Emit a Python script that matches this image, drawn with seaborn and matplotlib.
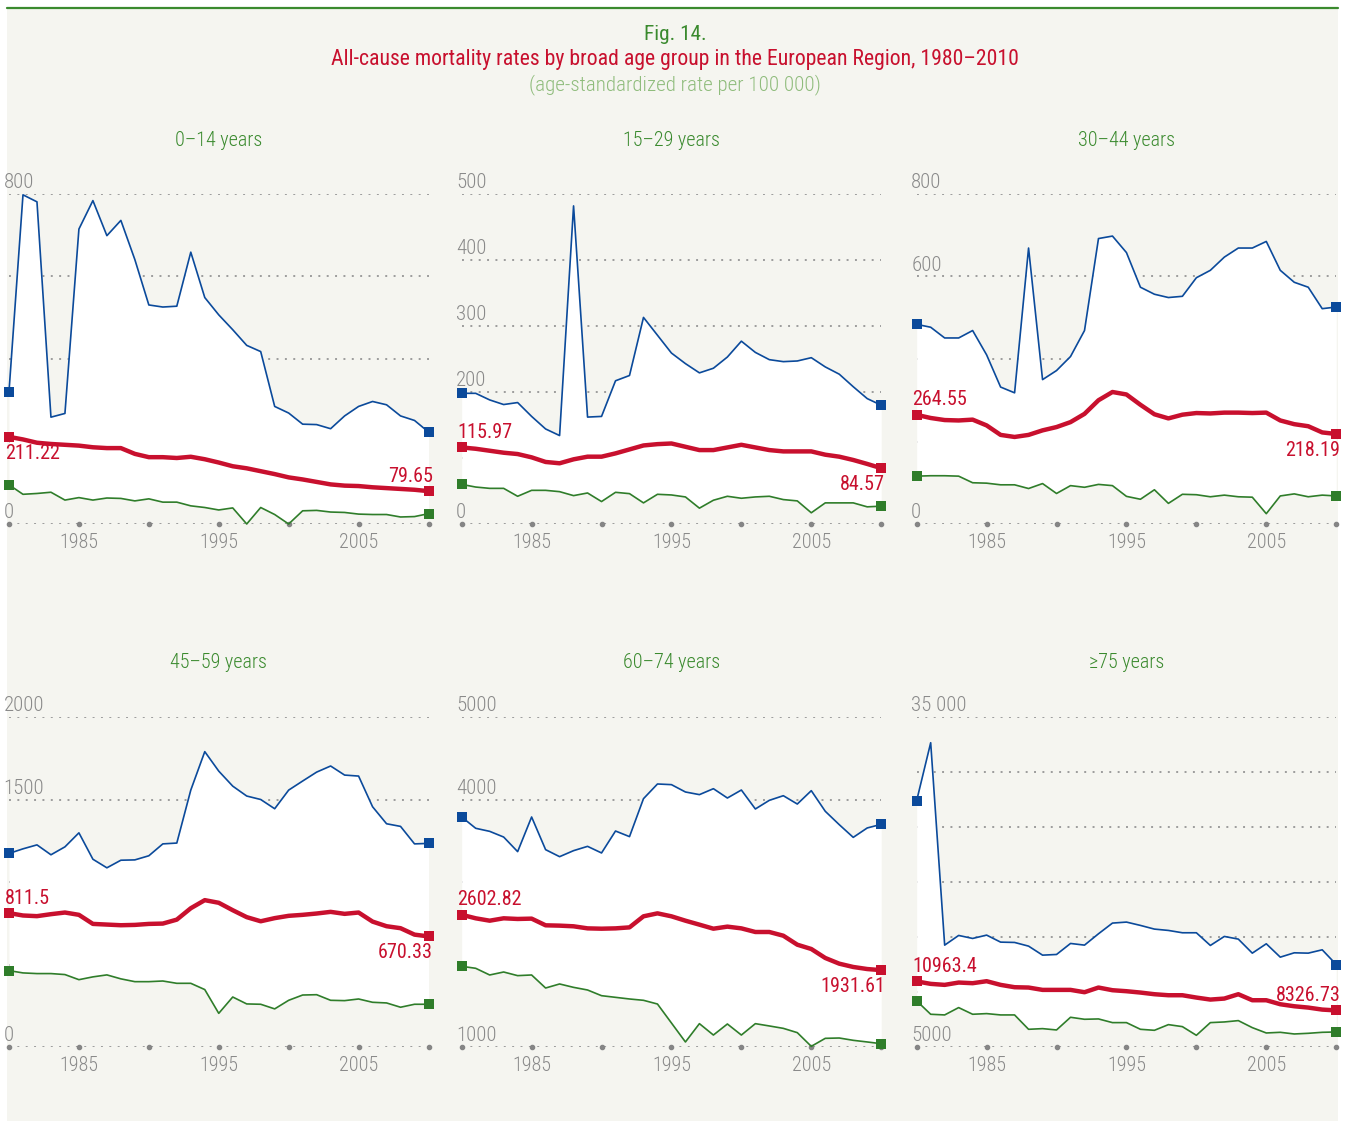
import numpy as np
import pandas as pd
import seaborn as sns
import matplotlib.pyplot as plt
from matplotlib import font_manager
from matplotlib.patches import Rectangle
from matplotlib.lines import Line2D

sns.set_theme(style='white')
installed = {f.name for f in font_manager.fontManager.ttflist}
narrow = [f for f in ['Liberation Sans Narrow', 'Roboto Condensed', 'DejaVu Sans Condensed', 'Lato']
          if f in installed]
plt.rcParams['font.family'] = narrow[:1] + ['DejaVu Sans']
plt.rcParams['font.weight'] = 'light'

# ------------------------------
# Data
# ------------------------------
years = list(range(1980, 2011))

titles = ['0–14 years', '15–29 years', '30–44 years', '45–59 years', '60–74 years', '≥75 years']

max_0_14 = [321, 798, 781, 259, 268, 715, 784, 699, 736, 641, 531, 526, 528, 659, 549, 507,
            471, 433, 418, 285, 269, 242, 241, 231, 262, 285, 297, 289, 262, 251, 223]
avg_0_14 = [211.22, 205, 197, 194, 192, 190, 186, 184, 184, 170, 162, 162, 160, 163, 157, 149,
            140, 135, 128, 121, 113, 108, 102, 96, 93, 92, 89, 87, 85, 83, 79.65]
min_0_14 = [95, 72, 74, 77, 58, 64, 58, 63, 62, 56, 61, 53, 53, 44, 40, 34,
            39, 0, 40, 23, 0, 32, 33, 29, 28, 24, 23, 23, 17, 18, 25]

max_15_29 = [198, 198, 188, 181, 184, 163, 144, 134, 482, 162, 163, 217, 225, 313, 286, 259,
             243, 229, 236, 253, 277, 260, 249, 246, 247, 252, 238, 227, 208, 190, 180]
avg_15_29 = [115.97, 114, 111, 108, 106, 101, 94, 92, 98, 102, 102, 107, 113, 119, 121, 122,
             117, 112, 112, 116, 120, 116, 112, 110, 110, 110, 105, 102, 97, 91, 84.57]
min_15_29 = [60, 56, 54, 54, 42, 51, 51, 49, 43, 47, 34, 48, 46, 32, 45, 44,
             41, 24, 36, 42, 39, 41, 42, 37, 35, 17, 32, 32, 32, 26, 27]

max_30_44 = [484, 477, 451, 451, 469, 410, 332, 318, 669, 350, 372, 406, 469, 692, 698, 658,
             574, 557, 549, 552, 597, 615, 647, 669, 669, 685, 615, 586, 574, 522, 526]
avg_30_44 = [264.55, 257, 252, 251, 253, 239, 216, 211, 216, 227, 235, 247, 267, 300, 320, 314,
             289, 266, 256, 265, 269, 268, 270, 270, 269, 270, 251, 242, 237, 222, 218.19]
min_30_44 = [116, 117, 117, 116, 100, 99, 95, 95, 86, 98, 74, 93, 89, 96, 93, 67,
             60, 83, 50, 72, 71, 66, 70, 66, 65, 25, 68, 73, 66, 70, 68]

max_45_59 = [1173, 1201, 1225, 1165, 1213, 1298, 1138, 1086, 1132, 1134, 1159, 1231, 1236, 1557, 1790, 1672,
             1581, 1521, 1500, 1444, 1557, 1612, 1666, 1703, 1648, 1642, 1456, 1353, 1337, 1231, 1234]
avg_45_59 = [811.5, 797, 793, 805, 815, 801, 746, 742, 738, 740, 746, 748, 772, 841, 890, 874,
             829, 787, 762, 781, 795, 801, 809, 819, 807, 815, 760, 732, 720, 681, 670.33]
min_45_59 = [463, 449, 445, 445, 439, 408, 425, 437, 413, 396, 396, 400, 386, 386, 348, 204,
             303, 261, 259, 231, 283, 315, 317, 283, 281, 291, 271, 267, 241, 259, 259]

max_60_74 = [3788, 3651, 3614, 3545, 3368, 3788, 3392, 3307, 3380, 3432, 3352, 3618, 3550, 4010, 4188, 4180,
             4091, 4059, 4131, 4018, 4115, 3885, 3990, 4046, 3945, 4107, 3857, 3695, 3541, 3655, 3699]
avg_60_74 = [2602.82, 2560, 2531, 2560, 2552, 2556, 2475, 2471, 2463, 2438, 2434, 2438, 2450, 2584, 2620, 2584,
             2531, 2483, 2434, 2459, 2438, 2394, 2394, 2349, 2240, 2188, 2079, 2010, 1970, 1945, 1931.61]
min_60_74 = [1978, 1954, 1873, 1909, 1865, 1873, 1715, 1764, 1723, 1691, 1622, 1602, 1582, 1566, 1521, 1291,
             1061, 1283, 1145, 1279, 1145, 1283, 1255, 1226, 1174, 1008, 1105, 1109, 1081, 1061, 1040]

max_75 = [27408, 32662, 14261, 15142, 14868, 15172, 14534, 14504, 14170, 13350, 13411, 14413, 14261, 15293, 16265, 16356,
          16053, 15718, 15597, 15385, 15385, 14231, 15051, 14808, 13532, 14383, 13168, 13563, 13532, 13836, 12500]
avg_75 = [10963.4, 10739, 10648, 10860, 10800, 10982, 10648, 10435, 10405, 10192, 10192, 10192, 9980, 10405, 10162, 10071,
          9949, 9798, 9706, 9706, 9494, 9312, 9403, 9798, 9251, 9251, 8887, 8704, 8583, 8401, 8326.73]
min_75 = [9190, 7976, 7915, 8583, 7976, 8036, 7915, 7915, 6609, 6670, 6549, 7702, 7520, 7551, 7217, 7217,
          6609, 6518, 7034, 6852, 6063, 7217, 7277, 7399, 6761, 6275, 6336, 6184, 6245, 6336, 6366]

max_series = [max_0_14, max_15_29, max_30_44, max_45_59, max_60_74, max_75]
avg_series = [avg_0_14, avg_15_29, avg_30_44, avg_45_59, avg_60_74, avg_75]
min_series = [min_0_14, min_15_29, min_30_44, min_45_59, min_60_74, min_75]

y_limits = [(0, 800), (0, 500), (0, 800), (0, 2000), (1000, 5000), (5000, 35000)]
grid_steps = [200, 100, 200, 500, 1000, 5000]
shown_ticks = [[800, 0], [500, 400, 300, 200, 0], [800, 600, 0],
               [2000, 1500, 0], [5000, 4000, 1000], [35000, 5000]]
tick_text = [['800', '0'], ['500', '400', '300', '200', '0'], ['800', '600', '0'],
             ['2000', '1500', '0'], ['5000', '4000', '1000'], ['35 000', '5000']]
start_lbl = ['211.22', '115.97', '264.55', '811.5', '2602.82', '10963.4']
end_lbl = ['79.65', '84.57', '218.19', '670.33', '1931.61', '8326.73']
start_above = [False, True, True, True, True, True]
end_above = [True, False, False, False, False, True]
year_labels = [1985, 1995, 2005]
year_dots = [1980, 1985, 1990, 1995, 2000, 2005, 2010]

# ------------------------------
# Colours
# ------------------------------
BG = '#f5f5f0'
BLUE = '#0b4a9b'
RED = '#c8102e'
GREEN = '#2f7d2a'
TITLE_GREEN = '#3a8a2e'
SUB_GREEN = '#8fbc7c'
GRAY = '#8a8a8a'
GRID = '#9c9c9c'
FS = 14.5 if narrow and narrow[0] != 'Lato' else 13

W, H = 1350, 1121
fig = plt.figure(figsize=(W / 100, H / 100), dpi=100, facecolor='white')

# background panel + top rule
fig.patches.append(Rectangle((7 / W, 0), (1338 - 7) / W, (H - 9) / H, transform=fig.transFigure,
                             facecolor=BG, edgecolor='none', zorder=-10))
fig.lines.append(Line2D([7 / W, 1338 / W], [(H - 8) / H] * 2, transform=fig.transFigure,
                        color=TITLE_GREEN, lw=1.6))

fig.text(0.5, 1 - 34 / H, 'Fig. 14.', ha='center', va='center', color=TITLE_GREEN,
         fontsize=FS + 0.8, fontweight='normal')
fig.text(0.5, 1 - 60 / H, 'All-cause mortality rates by broad age group in the European Region, 1980–2010',
         ha='center', va='center', color=RED, fontsize=FS + 1.2, fontweight='normal')
fig.text(0.5, 1 - 85 / H, '(age-standardized rate per 100 000)', ha='center', va='center',
         color=SUB_GREEN, fontsize=FS + 0.6)

col_left = [9, 461.7, 916.7]
ax_w = 419.5
row_bottom = [524, 1047]
ax_h = 330

for i in range(6):
    r, c = divmod(i, 3)
    left = col_left[c]
    bottom = row_bottom[r]
    ax = fig.add_axes([left / W, (H - bottom) / H, ax_w / W, ax_h / H])
    ax.patch.set_alpha(0)
    for s in ax.spines.values():
        s.set_visible(False)

    lo, hi = y_limits[i]
    ax.set_xlim(1980, 2010)
    ax.set_ylim(lo, hi)
    ax.set_yticks(np.arange(lo, hi + 1, grid_steps[i]))
    ax.set_xticks([])
    ax.tick_params(left=False, labelleft=False, bottom=False, labelbottom=False)
    ax.grid(axis='y', color=GRID, linestyle=(0, (1, 3.3)), linewidth=1.4)
    ax.set_axisbelow(True)

    df = pd.DataFrame({'year': years, 'max': max_series[i], 'avg': avg_series[i], 'min': min_series[i]})

    ax.fill_between(df['year'], df['min'], df['max'], color='white', lw=0, zorder=1)

    sns.lineplot(data=df, x='year', y='max', ax=ax, color=BLUE, lw=1.2, marker='s', markevery=[0, 30],
                 markersize=7.5, markeredgewidth=0, clip_on=False, zorder=3)
    sns.lineplot(data=df, x='year', y='min', ax=ax, color=GREEN, lw=1.2, marker='s', markevery=[0, 30],
                 markersize=7.5, markeredgewidth=0, clip_on=False, zorder=3)
    sns.lineplot(data=df, x='year', y='avg', ax=ax, color=RED, lw=3.2, marker='s', markevery=[0, 30],
                 markersize=7.5, markeredgewidth=0, clip_on=False, zorder=4,
                 solid_joinstyle='round', solid_capstyle='round')
    ax.set(xlabel='', ylabel='')

    # baseline dots every 5 years
    ax.plot(year_dots, [lo] * len(year_dots), 'o', ms=3, color='#858585', clip_on=False, zorder=2)

    # y labels (only the visible ones)
    for v, t in zip(shown_ticks[i], tick_text[i]):
        ax.annotate(t, (1980, v), xytext=(-4, 1.2), textcoords='offset points', ha='left',
                    va='bottom', color=GRAY, fontsize=FS + 0.5, annotation_clip=False, zorder=0.5)
    for yr in year_labels:
        ax.annotate(str(yr), (yr, lo), xytext=(0, -6.5), textcoords='offset points', ha='center',
                    va='top', color=GRAY, fontsize=FS, annotation_clip=False)

    # start / end values
    a0 = avg_series[i][0]
    a1 = avg_series[i][-1]
    ax.annotate(start_lbl[i], (1980, a0), xytext=(-3, 4 if start_above[i] else -5),
                textcoords='offset points', ha='left', va='bottom' if start_above[i] else 'top',
                color=RED, fontsize=FS, fontweight='normal', annotation_clip=False, zorder=5)
    ax.annotate(end_lbl[i], (2010, a1), xytext=(3, 4 if end_above[i] else -5),
                textcoords='offset points', ha='right', va='bottom' if end_above[i] else 'top',
                color=RED, fontsize=FS, fontweight='normal', annotation_clip=False, zorder=5)

    fig.text((left + ax_w / 2) / W, 1 - (140 if r == 0 else 662) / H, titles[i], ha='center',
             va='center', color=TITLE_GREEN, fontsize=FS)

fig.savefig('out.png', dpi=100, facecolor='white')
